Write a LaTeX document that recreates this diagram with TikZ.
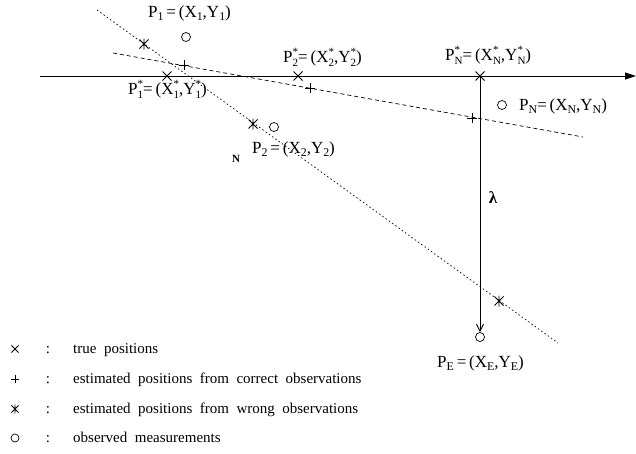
\documentclass[tikz,border=0pt]{standalone}
\usepackage{fontspec}
\setmainfont{Liberation Serif}
\usepackage{graphicx}
\usetikzlibrary{arrows.meta}
\newcommand\lo[1]{\raisebox{-0.5ex}{\scalebox{0.7}{#1}}}
\newcommand\hi[1]{\raisebox{0.85ex}{\scalebox{0.65}{#1}}}
\newcommand\los[1]{\raisebox{-0.6ex}{\scalebox{0.65}{#1}}}
\newcommand\hl[2]{\rlap{\hi{#1}}\los{#2}}
\newcommand\widesp{\spaceskip=0.5em plus 0.1em\relax}
\begin{document}
\begin{tikzpicture}[x=1pt,y=-1pt,
  lab/.style={font=\fontsize{17}{20}\selectfont, inner sep=0, anchor=base west},
  leg/.style={font=\fontsize{15}{18}\selectfont, inner sep=0, anchor=base west},
  obs/.style={circle, draw, minimum size=9pt, inner sep=0, line width=0.7pt},
  xm/.pic={\draw[line width=0.8pt] (-4.5,-4.5)--(4.5,4.5) (-4.5,4.5)--(4.5,-4.5);},
  pm/.pic={\draw[line width=0.8pt] (-5,0)--(5,0) (0,-5)--(0,5);},
  am/.pic={\draw[line width=0.8pt] (-4.5,-4.5)--(4.5,4.5) (-4.5,4.5)--(4.5,-4.5) (0,-5.5)--(0,5.5);},
  axis/.style={line width=1pt},
  corr/.style={line width=0.7pt, dash pattern=on 4pt off 3pt},
  wrong/.style={line width=0.7pt, dash pattern=on 1.5pt off 2.5pt},
]
\useasboundingbox (0,0) rectangle (636,453);
% axis
\coordinate (ax0) at (40,76);
\coordinate (ax1) at (636,76);
\draw[axis, -{Triangle[length=11pt,width=7pt]}] (ax0) -- (ax1);
% estimation lines
\coordinate (c0) at (113,53);
\coordinate (c9) at (583,137);
\draw[corr] (c0) -- (c9);
\coordinate (w0) at (97,10);
\coordinate (w9) at (558,343);
\draw[wrong] (w0) -- (w9);
% true positions
\coordinate (t1) at (167,76);
\coordinate (t2) at (298,76);
\coordinate (tN) at (480,76);
\pic at (t1) {xm};
\pic at (t2) {xm};
\pic at (tN) {xm};
% estimated from correct
\coordinate (c1) at (184,65);
\coordinate (c2) at (310,88);
\coordinate (cN) at (472,118);
\pic at (c1) {pm};
\pic at (c2) {pm};
\pic at (cN) {pm};
% estimated from wrong
\coordinate (w1) at (144,44);
\coordinate (w2) at (253,124);
\coordinate (wE) at (499,301);
\pic at (w1) {am};
\pic at (w2) {am};
\pic at (wE) {am};
% observations
\node[obs] (o1) at (186,37) {};
\node[obs] (o2) at (274,127) {};
\node[obs] (oN) at (502,105) {};
\node[obs] (oE) at (480,337) {};
% lambda arrow
\draw[line width=0.9pt, -{Straight Barb[length=7pt,width=7pt]}] (tN) -- (oE.north);
\node[font=\fontsize{17}{20}\selectfont\bfseries, inner sep=0] (lam) at (493,198) {λ};
% labels
\node[lab] (l1) at (148,17) {P\lo{1}\,=\,(X\lo{1},Y\lo{1})};
\node[lab] (l1s) at (128,94) {P\hl{*}{1}=\,(X\hl{*}{1},Y\hl{*}{1})};
\node[lab] (l2s) at (283,62) {P\hl{*}{2}=\,(X\hl{*}{2},Y\hl{*}{2})};
\node[lab] (lNs) at (445,60) {P\hl{*}{N}=\,(X\hl{*}{N},Y\hl{*}{N})};
\node[lab] (lN) at (519,110) {P\lo{N}=\,(X\lo{N},Y\lo{N})};
\node[lab] (l2) at (252,153) {P\lo{2}\,=\,(X\lo{2},Y\lo{2})};
\node[lab, font=\fontsize{11}{13}\selectfont\bfseries] (nn) at (232,162) {N};
\node[lab] (lE) at (437,367) {P\lo{E}\,=\,(X\lo{E},Y\lo{E})};
% legend
\pic[scale=0.8] at (15,349) {xm};
\pic[scale=0.8] at (15,379) {pm};
\pic[scale=0.8] at (15,409) {am};
\node[obs, minimum size=8pt] (lo) at (15,438) {};
\node[leg, anchor=base] (k1) at (48,353) {:};
\node[leg, anchor=base] (k2) at (48,383) {:};
\node[leg, anchor=base] (k3) at (48,413) {:};
\node[leg, anchor=base] (k4) at (48,442) {:};
\node[leg] (g1) at (73,353) {\widesp true positions};
\node[leg] (g2) at (73,383) {\widesp estimated positions from correct observations};
\node[leg] (g3) at (73,413) {\widesp estimated positions from wrong observations};
\node[leg] (g4) at (73,442) {\widesp observed measurements};
\end{tikzpicture}
\end{document}
